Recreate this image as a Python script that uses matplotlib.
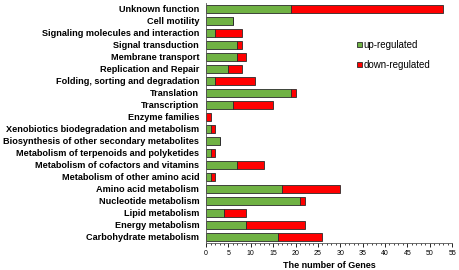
import numpy as np
import matplotlib
matplotlib.use('Agg')
from matplotlib import pyplot as plt
from matplotlib.ticker import MultipleLocator

"""data, top to bottom"""
categories = ['Unknown function', 'Cell motility', 'Signaling molecules and interaction',
              'Signal transduction', 'Membrane transport', 'Replication and Repair',
              'Folding, sorting and degradation', 'Translation', 'Transcription',
              'Enzyme families', 'Xenobiotics biodegradation and metabolism',
              'Biosynthesis of other secondary metabolites',
              'Metabolism of terpenoids and polyketides', 'Metabolism of cofactors and vitamins',
              'Metabolism of other amino acid', 'Amino acid metabolism', 'Nucleotide metabolism',
              'Lipid metabolism', 'Energy metabolism', 'Carbohydrate metabolism']
up = [19, 6, 2, 7, 7, 5, 2, 19, 6, 0, 1, 3, 1, 7, 1, 17, 21, 4, 9, 16]
down = [34, 0, 6, 1, 2, 3, 9, 1, 9, 1, 1, 0, 1, 6, 1, 13, 1, 5, 13, 10]
xticks = list(range(0, 56, 5))

plt.rcParams['font.family'] = ['Liberation Sans', 'DejaVu Sans']

fig = plt.figure(figsize=(4.59, 2.70), dpi=100)
ax = fig.add_axes([0.449, 0.1, 0.536, 0.889])

y = np.arange(len(categories))[::-1]
ax.barh(y, up, height=0.68, color='#70B244', edgecolor='#2b2b2b', linewidth=0.6, label='up-regulated')
ax.barh(y, down, left=up, height=0.68, color='#FF0000', edgecolor='#2b2b2b', linewidth=0.6, label='down-regulated')

ax.set_ylim(-0.5, 19.5)
ax.set_xlim(0, 55)
ax.set_yticks(y)
ax.set_yticklabels(categories, fontsize=6.55, fontweight='bold')
ax.tick_params(axis='y', length=0, pad=5)
ax.set_xticks(xticks)
ax.xaxis.set_minor_locator(MultipleLocator(1))
ax.tick_params(axis='x', which='major', labelsize=5, length=3, width=0.6, pad=2)
ax.tick_params(axis='x', which='minor', length=1.5, width=0.5)
ax.set_xlabel('The number of Genes', fontsize=6.5, fontweight='bold', labelpad=3)
for s in ['top', 'right']:
  ax.spines[s].set_visible(False)
for s in ['left', 'bottom']:
  ax.spines[s].set_linewidth(0.6)
  ax.spines[s].set_color('#555555')

ax.legend(loc='upper left', bbox_to_anchor=(0.585, 0.875), frameon=False, fontsize=7,
          handlelength=0.5, handleheight=0.5, handletextpad=0.2, labelspacing=1.05,
          borderpad=0.2)

fig.savefig('out.png', dpi=100)
